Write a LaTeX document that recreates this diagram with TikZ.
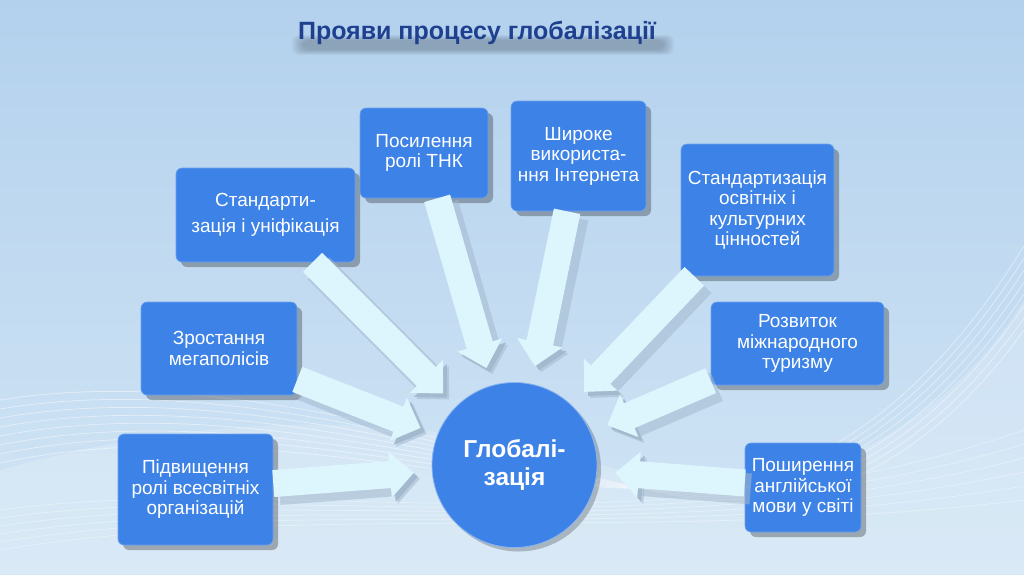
\documentclass[tikz,border=0pt]{standalone}
\usepackage{fontspec}
\setmainfont{Liberation Sans}
\usetikzlibrary{shadows,arrows.meta,calc}
\definecolor{boxblue}{HTML}{3D82E6}
\definecolor{titleblue}{HTML}{1F3F8F}
\definecolor{arrowfill}{HTML}{DDF5FC}
\definecolor{arrowshadow}{HTML}{A3B9CE}
\definecolor{bgtop}{HTML}{B3D1ED}
\definecolor{bgbot}{HTML}{D2E5F5}
\begin{document}
\begin{tikzpicture}[x=1pt,y=-1pt,
  box/.style={rectangle, rounded corners=6pt, fill=boxblue, draw=boxblue!75!white,
    line width=0.6pt, text=white, align=center, inner sep=0pt,
    font=\fontsize{19}{20.5}\selectfont,
    drop shadow={shadow xshift=5pt, shadow yshift=-5pt, fill=black, opacity=0.28}},
  hub/.style={circle, fill=boxblue, draw=boxblue!60!white, line width=0.8pt,
    text=white, align=center, inner sep=0pt, minimum size=165pt,
    font=\bfseries\fontsize{24.5}{28}\selectfont,
    drop shadow={shadow xshift=4pt, shadow yshift=-4pt, fill=black, opacity=0.22}},
  bigarrow/.style={line width=27pt, draw=arrowfill,
    -{Triangle[length=24pt,width=45pt]}, shorten >=18pt,
    preaction={draw=arrowshadow, opacity=0.55, line width=31pt, transform canvas={shift={(6pt,-6pt)}}},
    preaction={draw=arrowshadow, transform canvas={shift={(4pt,-4pt)}}}},
  wave/.style={white, line width=0.8pt, opacity=0.45},
  titlefont/.style={font=\bfseries\fontsize{25}{28}\selectfont}
]
\useasboundingbox (0,0) rectangle (1024,574);
% background
\fill[top color=bgtop, bottom color=bgbot] (0,0) rectangle (1024,574);
\fill[white, opacity=0.18] (0,470) .. controls (250,400) and (450,420) .. (620,470)
  .. controls (800,520) and (950,420) .. (1024,300) -- (1024,574) -- (0,574) -- cycle;
\foreach \i in {0,...,7}{
  \draw[wave] (0,{400+\i*9}) .. controls (250,{360+\i*7}) and (520,{470+\i*5}) .. (700,{500-\i*2})
    .. controls (850,{520-\i*6}) and (960,{420-\i*10}) .. (1024,{330-\i*12});
}
\foreach \i in {0,...,5}{
  \draw[wave, opacity=0.35] (0,{510+\i*8}) .. controls (300,{470+\i*6}) and (650,{560-\i*3}) .. (1024,{430+\i*14});
}
% title shadow (blurred band)
\foreach \d in {0,2,...,10}{
  \fill[black, opacity=0.04, rounded corners=7pt] ({302-\d},{40-\d/2}) rectangle ({664+\d},{50+\d/2});
}
% title
\node[titlefont, text=titleblue] (title) at (477,33) {Прояви процесу глобалізації};
% nodes
\node[box, minimum width=179pt, minimum height=94pt] (b1) at (265.5,215) {Стандарти-\\[6pt]зація і уніфікація};
\node[box, minimum width=128pt, minimum height=90pt] (b2) at (424,153) {Посилення\\ролі ТНК};
\node[box, minimum width=135pt, minimum height=110pt] (b3) at (578.5,156) {Широке\\використа-\\ння Інтернета};
\node[box, minimum width=153pt, minimum height=132pt] (b4) at (757.5,210) {Стандартизація\\освітніх і\\культурних\\цінностей};
\node[box, minimum width=156pt, minimum height=93pt] (b5) at (219,348.5) {Зростання\\мегаполісів};
\node[box, minimum width=173pt, minimum height=83pt] (b6) at (797.5,343.5) {Розвиток\\міжнародного\\туризму};
\node[box, minimum width=155pt, minimum height=111pt] (b7) at (195.5,489.5) {Підвищення\\ролі всесвітніх\\організацій};
\node[box, minimum width=116pt, minimum height=89pt] (b8) at (803,487.5) {Поширення\\англійської\\мови у світі};
\node[hub] (g) at (514.5,465) {Глобалі-\\зація};
% arrows
\foreach \b in {b1,b2,b3,b4,b5,b6,b7,b8}{
  \draw[bigarrow] (\b) -- (g);
}
\end{tikzpicture}
\end{document}
